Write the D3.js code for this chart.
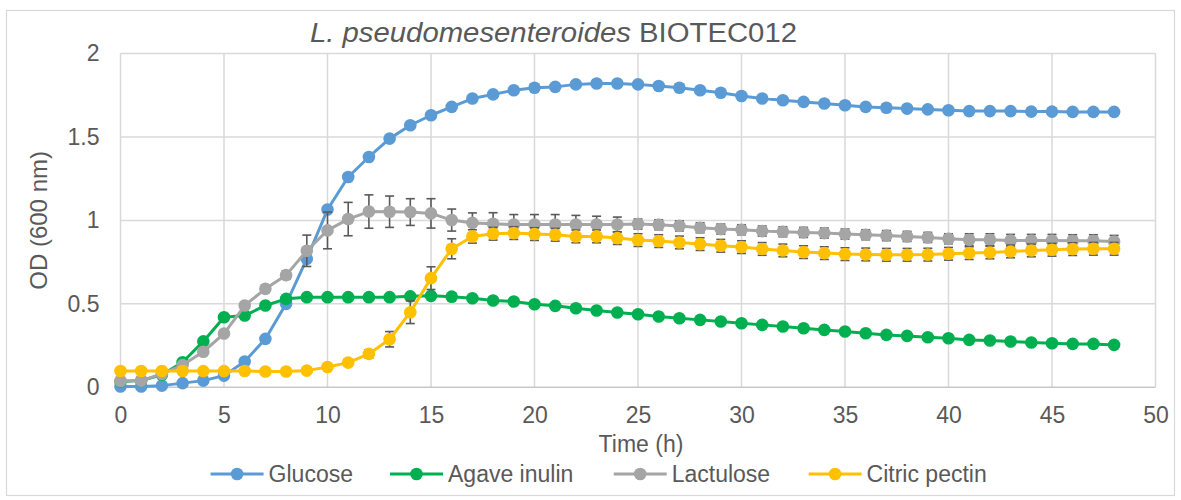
<!DOCTYPE html>
<html>
<head>
<meta charset="utf-8">
<script src="https://cdn.jsdelivr.net/npm/d3@7"></script>
<style>
  html, body { margin: 0; padding: 0; background: #ffffff; }
  svg { display: block; font-family: "Liberation Sans", Arial, sans-serif; }
</style>
</head>
<body>
<svg id="chart" width="1181" height="500"></svg>
<script>
// Sampling times (h)
const hours = d3.range(0, 49);

// Mean OD600 per carbon source
const glucose = [0.005,0.005,0.01,0.025,0.04,0.07,0.155,0.29,0.50,0.77,1.065,1.26,1.38,1.49,1.57,1.63,1.68,1.73,1.755,1.78,1.795,1.80,1.815,1.82,1.82,1.815,1.805,1.795,1.78,1.765,1.745,1.73,1.72,1.71,1.70,1.69,1.68,1.675,1.67,1.665,1.66,1.655,1.655,1.655,1.652,1.652,1.65,1.65,1.65];
const agaveInulin = [0.035,0.04,0.075,0.15,0.275,0.42,0.43,0.49,0.53,0.54,0.54,0.54,0.54,0.54,0.545,0.548,0.543,0.534,0.52,0.514,0.498,0.488,0.474,0.46,0.448,0.438,0.424,0.414,0.404,0.394,0.384,0.374,0.364,0.354,0.344,0.334,0.324,0.314,0.308,0.30,0.294,0.284,0.28,0.274,0.268,0.264,0.26,0.26,0.254];
const lactulose = [0.038,0.04,0.08,0.133,0.213,0.322,0.49,0.59,0.672,0.818,0.94,1.008,1.053,1.052,1.05,1.042,1.002,0.985,0.98,0.975,0.975,0.975,0.975,0.975,0.975,0.978,0.974,0.967,0.956,0.948,0.944,0.936,0.932,0.928,0.924,0.918,0.914,0.909,0.904,0.898,0.89,0.884,0.884,0.88,0.88,0.88,0.878,0.878,0.874];
const citricPectin = [0.098,0.098,0.098,0.098,0.097,0.097,0.098,0.095,0.095,0.1,0.122,0.148,0.2,0.288,0.45,0.654,0.83,0.904,0.92,0.924,0.918,0.914,0.904,0.904,0.894,0.882,0.876,0.868,0.858,0.848,0.84,0.829,0.82,0.81,0.804,0.798,0.796,0.794,0.794,0.795,0.80,0.804,0.808,0.814,0.82,0.824,0.828,0.83,0.83];

// Standard deviations (only the lactulose and pectin cultures show visible spread)
const lactuloseSd = [0.01,0.01,0.01,0.01,0.01,0.01,0.01,0.01,0.025,0.094,0.11,0.10,0.10,0.094,0.08,0.088,0.066,0.06,0.066,0.06,0.06,0.06,0.055,0.05,0.045,0.03,0.03,0.03,0.03,0.03,0.03,0.03,0.03,0.03,0.03,0.03,0.03,0.03,0.03,0.03,0.03,0.036,0.036,0.036,0.036,0.036,0.036,0.036,0.036];
const citricPectinSd = [0.01,0.01,0.01,0.01,0.01,0.01,0.01,0.01,0.01,0.01,0.015,0.02,0.025,0.046,0.068,0.068,0.06,0.04,0.038,0.038,0.038,0.038,0.038,0.038,0.038,0.038,0.038,0.038,0.038,0.038,0.038,0.038,0.038,0.038,0.038,0.038,0.038,0.038,0.038,0.038,0.038,0.038,0.038,0.038,0.038,0.038,0.038,0.038,0.038];

const seriesNames = ["Glucose", "Agave inulin", "Lactulose", "Citric pectin"];
const seriesColors = ["#5B9BD5", "#00B050", "#A5A5A5", "#FFC000"];
const seriesValues = [glucose, agaveInulin, lactulose, citricPectin];
const seriesSd = [null, null, lactuloseSd, citricPectinSd];

const xTicks = [0, 5, 10, 15, 20, 25, 30, 35, 40, 45, 50];
const yTicks = [0, 0.5, 1, 1.5, 2];

const svg = d3.select("#chart");
const textColor = "#595959";
const gridColor = "#d9d9d9";

// chart frame
svg.append("rect")
  .attr("x", 6.5).attr("y", 10.5)
  .attr("width", 1168).attr("height", 485)
  .attr("fill", "#ffffff")
  .attr("stroke", gridColor).attr("stroke-width", 1.2);

const plot = { left: 120.5, right: 1155.5, top: 53.5, bottom: 387.3 };

const x = d3.scaleLinear().domain([0, 50]).range([plot.left, plot.right]);
const y = d3.scaleLinear().domain([0, 2]).range([plot.bottom, plot.top]);

// gridlines
const grid = svg.append("g");
grid.selectAll("line.v").data(xTicks).join("line")
  .attr("x1", d => x(d)).attr("x2", d => x(d))
  .attr("y1", plot.top).attr("y2", plot.bottom)
  .attr("stroke", gridColor).attr("stroke-width", 1.5);
grid.selectAll("line.h").data(yTicks).join("line")
  .attr("x1", plot.left).attr("x2", plot.right)
  .attr("y1", d => y(d)).attr("y2", d => y(d))
  .attr("stroke", d => d === 0 ? "#c8c8c8" : gridColor).attr("stroke-width", 1.5);

// axes (labels only, Excel style)
const xAxis = d3.axisBottom(x).tickValues(xTicks).tickSize(0).tickPadding(19).tickFormat(d3.format("d"));
const gx = svg.append("g").attr("transform", `translate(0,${plot.bottom})`).call(xAxis);
gx.select(".domain").remove();
gx.selectAll("text").attr("fill", textColor).attr("font-size", 23)
  .attr("font-family", "Liberation Sans, Arial, sans-serif");

const yAxis = d3.axisLeft(y).tickValues(yTicks).tickSize(0).tickPadding(21).tickFormat(d => String(d));
const gy = svg.append("g").attr("transform", `translate(${plot.left},0)`).call(yAxis);
gy.select(".domain").remove();
gy.selectAll("text").attr("fill", textColor).attr("font-size", 23)
  .attr("font-family", "Liberation Sans, Arial, sans-serif");

// series: error bars, line, markers
const line = d3.line().x((d, i) => x(hours[i])).y(d => y(d));
seriesValues.forEach((vals, s) => {
  const g = svg.append("g");
  const sd = seriesSd[s];
  if (sd) {
    const eb = g.append("g").attr("stroke", "#595959").attr("stroke-width", 1.6);
    vals.forEach((v, i) => {
      const cx = x(hours[i]);
      const y1 = y(v + sd[i]), y2 = y(v - sd[i]);
      eb.append("line").attr("x1", cx).attr("x2", cx).attr("y1", y1).attr("y2", y2);
      eb.append("line").attr("x1", cx - 4.5).attr("x2", cx + 4.5).attr("y1", y1).attr("y2", y1);
      eb.append("line").attr("x1", cx - 4.5).attr("x2", cx + 4.5).attr("y1", y2).attr("y2", y2);
    });
  }
  g.append("path").datum(vals)
    .attr("d", line)
    .attr("fill", "none")
    .attr("stroke", seriesColors[s])
    .attr("stroke-width", 3)
    .attr("stroke-linejoin", "round");
  g.selectAll("circle").data(vals).join("circle")
    .attr("cx", (d, i) => x(hours[i]))
    .attr("cy", d => y(d))
    .attr("r", 6.3)
    .attr("fill", seriesColors[s]);
});

// title
const title = svg.append("text")
  .attr("x", 310).attr("y", 42)
  .attr("fill", textColor).attr("font-size", 27)
  .attr("textLength", 487).attr("lengthAdjust", "spacingAndGlyphs");
title.append("tspan").attr("font-style", "italic").text("L. pseudomesenteroides");
title.append("tspan").text(" BIOTEC012");

// axis titles
svg.append("text")
  .attr("x", 641).attr("y", 452)
  .attr("text-anchor", "middle")
  .attr("fill", textColor).attr("font-size", 23)
  .text("Time (h)");

svg.append("text")
  .attr("transform", `translate(47,${(plot.top + plot.bottom) / 2}) rotate(-90)`)
  .attr("text-anchor", "middle")
  .attr("fill", textColor).attr("font-size", 24)
  .text("OD (600 nm)");

// legend
const legendX = [210.6, 390, 613.7, 808.6];
const legend = svg.append("g");
seriesNames.forEach((name, s) => {
  const lx = legendX[s];
  const ly = 474;
  legend.append("line")
    .attr("x1", lx).attr("x2", lx + 53)
    .attr("y1", ly).attr("y2", ly)
    .attr("stroke", seriesColors[s]).attr("stroke-width", 3);
  legend.append("circle")
    .attr("cx", lx + 26.5).attr("cy", ly).attr("r", 6.3)
    .attr("fill", seriesColors[s]);
  legend.append("text")
    .attr("x", lx + 58).attr("y", ly + 8)
    .attr("fill", textColor).attr("font-size", 23)
    .text(name);
});
</script>
</body>
</html>
